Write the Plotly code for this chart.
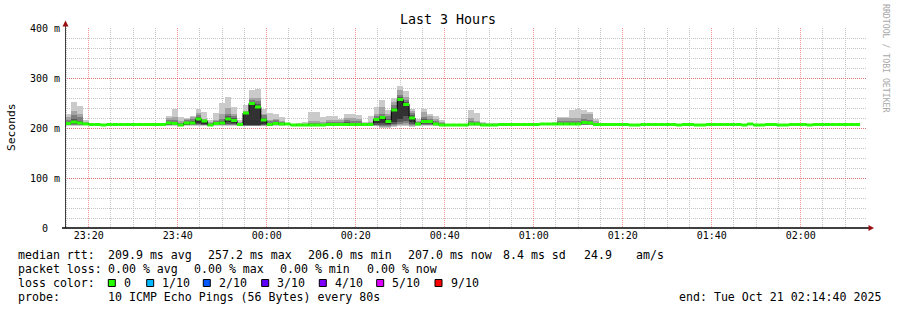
import plotly.graph_objects as go
from datetime import datetime, timedelta

# ---------------- data ----------------
START = datetime(2025, 10, 20, 23, 14, 40)
END = datetime(2025, 10, 21, 2, 14, 40)
STEP_S = 80  # one sample every 80 s

# median RTT per sample (ms)
median_ms = [
    209, 212, 210, 208, 207, 207, 206, 207, 207, 207,
    207, 207, 207, 207, 207, 207, 207, 210, 209, 206,
    210, 210, 218, 214, 206, 209, 210, 218, 215, 207,
    230, 249, 242, 216, 207, 209, 208, 208, 206, 206,
    206, 206, 206, 206, 207, 207, 207, 207, 207, 207,
    207, 207, 217, 221, 213, 236, 257, 247, 220, 208,
    213, 213, 208, 206, 206, 206, 206, 206, 208, 208,
    206, 206, 206, 207, 207, 207, 207, 207, 207, 207,
    208, 208, 208, 208, 208, 208, 208, 211, 210, 207,
    207, 207, 207, 207, 207, 206, 206, 207, 207, 207,
    207, 207, 207, 206, 207, 207, 206, 206, 207, 207,
    207, 207, 207, 207, 206, 208, 206, 206, 207, 207,
    206, 206, 207, 207, 207, 206, 207, 207, 207, 207,
    207, 207, 207, 207,
]

# samples with visible smoke and their 10 sorted ping times (ms)
smoke_samples = [0, 1, 2, 3, 17, 18, 19, 20, 21, 22, 23, 24, 25, 26, 27, 28, 29,
                 30, 31, 32, 33, 34, 35, 36, 37, 39, 40, 41, 42, 43, 44, 45, 46,
                 47, 48, 49, 50, 51, 52, 53, 54, 55, 56, 57, 58, 59, 60, 61, 62,
                 63, 68, 69, 70, 71, 72, 82, 83, 84, 85, 86, 87, 88, 89]
smoke_pings = [
    [205, 206, 206, 207, 208, 209, 212, 216, 222, 228],
    [205, 206, 207, 208, 210, 212, 218, 226, 235, 252],
    [205, 206, 207, 208, 209, 210, 214, 223, 229, 245],
    [206, 206, 207, 207, 207, 208, 209, 210, 212, 216],
    [205, 206, 206, 207, 208, 210, 212, 216, 220, 224],
    [205, 206, 207, 207, 208, 209, 212, 216, 222, 238],
    [204, 205, 205, 206, 206, 206, 208, 210, 214, 222],
    [205, 206, 206, 207, 208, 210, 213, 216, 218, 220],
    [205, 206, 207, 208, 209, 210, 214, 218, 222, 225],
    [205, 206, 207, 208, 210, 218, 222, 226, 230, 238],
    [205, 206, 206, 207, 209, 214, 216, 217, 218, 232],
    [204, 205, 205, 206, 206, 206, 208, 210, 213, 217],
    [205, 206, 206, 207, 208, 209, 212, 215, 217, 231],
    [205, 206, 207, 208, 209, 210, 214, 218, 229, 251],
    [205, 206, 207, 208, 212, 218, 224, 228, 241, 263],
    [205, 206, 207, 208, 210, 215, 220, 224, 228, 243],
    [205, 205, 206, 206, 206, 207, 209, 211, 213, 217],
    [204, 205, 205, 206, 206, 230, 231, 233, 235, 247],
    [204, 205, 205, 206, 206, 249, 252, 256, 261, 276],
    [204, 205, 205, 206, 207, 242, 248, 255, 260, 278],
    [205, 205, 206, 207, 208, 216, 220, 226, 229, 238],
    [205, 205, 206, 206, 206, 207, 210, 214, 217, 230],
    [205, 206, 206, 207, 208, 209, 212, 216, 218, 229],
    [205, 206, 206, 207, 207, 208, 210, 212, 214, 222],
    [206, 206, 207, 207, 207, 208, 209, 210, 210, 211],
    [205, 205, 206, 206, 206, 206, 207, 208, 209, 211],
    [205, 205, 206, 206, 206, 206, 207, 208, 209, 212],
    [205, 205, 206, 206, 206, 206, 208, 210, 215, 233],
    [205, 205, 206, 206, 206, 206, 208, 210, 215, 233],
    [205, 205, 206, 206, 206, 206, 207, 209, 212, 223],
    [205, 205, 206, 206, 206, 207, 209, 212, 216, 224],
    [205, 205, 206, 206, 206, 207, 209, 212, 216, 224],
    [205, 205, 206, 206, 206, 207, 209, 213, 216, 218],
    [205, 205, 206, 206, 207, 207, 212, 216, 221, 228],
    [205, 205, 206, 206, 207, 207, 211, 215, 221, 229],
    [205, 205, 206, 206, 207, 207, 210, 214, 218, 226],
    [205, 206, 206, 206, 207, 207, 208, 209, 210, 213],
    [205, 206, 206, 206, 207, 207, 208, 210, 213, 225],
    [204, 205, 206, 207, 210, 217, 220, 224, 229, 242],
    [200, 203, 205, 207, 210, 221, 224, 229, 243, 257],
    [200, 203, 205, 206, 208, 213, 218, 224, 228, 237],
    [202, 204, 206, 208, 213, 236, 240, 246, 253, 261],
    [204, 206, 208, 212, 219, 257, 262, 266, 276, 285],
    [204, 206, 210, 214, 224, 247, 252, 256, 263, 275],
    [203, 205, 206, 208, 213, 220, 226, 230, 234, 238],
    [205, 206, 206, 207, 207, 208, 210, 212, 214, 219],
    [205, 206, 207, 208, 210, 213, 218, 223, 232, 239],
    [205, 206, 207, 208, 210, 213, 216, 219, 224, 229],
    [205, 206, 206, 207, 207, 208, 210, 214, 218, 225],
    [205, 205, 206, 206, 206, 206, 208, 210, 212, 217],
    [205, 206, 206, 207, 207, 208, 210, 214, 220, 237],
    [205, 206, 206, 207, 207, 208, 210, 212, 214, 231],
    [205, 205, 206, 206, 206, 206, 207, 208, 210, 213],
    [205, 205, 206, 206, 206, 206, 207, 207, 208, 210],
    [205, 205, 206, 206, 206, 206, 207, 208, 209, 211],
    [206, 206, 207, 207, 207, 208, 209, 210, 211, 213],
    [206, 206, 207, 207, 208, 208, 210, 214, 220, 223],
    [206, 206, 207, 207, 208, 208, 210, 214, 220, 223],
    [206, 206, 207, 207, 208, 208, 210, 214, 220, 237],
    [206, 206, 207, 207, 208, 208, 210, 215, 221, 238],
    [206, 206, 207, 208, 209, 211, 214, 218, 228, 237],
    [206, 206, 207, 208, 209, 210, 213, 216, 229, 233],
    [206, 206, 206, 207, 207, 207, 209, 211, 214, 219],
]

y_tick_vals = [0, 100, 200, 300, 400]
y_tick_text = ["0\u00a0\u00a0", "100 m", "200 m", "300 m", "400 m"]

title_text = "Last 3 Hours"
rtt_items = ["median rtt:", "209.9 ms avg", "257.2 ms max", "206.0 ms min",
             "207.0 ms now", "8.4 ms sd", "24.9", "am/s"]
loss_items = ["packet loss:", "0.00 % avg", "0.00 % max", "0.00 % min", "0.00 % now"]
loss_labels = ["0", "1/10", "2/10", "3/10", "4/10", "5/10", "9/10"]
loss_colors = ["#26ff00", "#00b8ff", "#0059ff", "#5e00ff", "#7e00ff", "#dd00ff", "#ff0000"]
probe_items = ["probe:", "10 ICMP Echo Pings (56 Bytes) every 80s"]
end_text = "end: Tue Oct 21 02:14:40 2025"

# ---------------- styling ----------------
MONO = "DejaVu Sans Mono"
SMOKE_COLORS = ["#cacaca", "#a4a4a4", "#7e7e7e", "#585858", "#323232"]
MAJOR_GRID = "rgba(255,0,0,0.42)"
MINOR_GRID = "#c4c4c4"
ARROW = "#9a1010"

W, H = 897, 310
PL, PR, PT, PB = 65, 866, 28, 228


def px(x):
    return (x - PL) / (PR - PL)


def py(y):
    return (PB - y) / (PB - PT)


n = len(median_ms)
starts = [START + timedelta(seconds=STEP_S * i) for i in range(n)]
centers = [t + timedelta(seconds=STEP_S / 2) for t in starts]
last_end = starts[-1] + timedelta(seconds=STEP_S)

fig = go.Figure()

# smoke: layer k spans ping k .. ping (11-k)
for k in range(5):
    xs, base, hgt = [], [], []
    for idx, p in zip(smoke_samples, smoke_pings):
        lo, hi = p[k], p[9 - k]
        if hi > lo:
            xs.append(centers[idx])
            base.append(lo)
            hgt.append(hi - lo)
    fig.add_bar(x=xs, y=hgt, base=base, width=STEP_S * 1000,
                marker=dict(color=SMOKE_COLORS[k], line=dict(width=0)),
                hoverinfo="skip")

# median step line (black risers)
fig.add_scatter(x=starts + [last_end], y=median_ms + [median_ms[-1]],
                mode="lines", line=dict(color="#000000", width=1, shape="hv"),
                hoverinfo="skip")

# median band in loss colour (0 loss everywhere)
gx, gy = [], []
for i in range(n):
    gx += [starts[i], starts[i] + timedelta(seconds=STEP_S), None]
    gy += [median_ms[i], median_ms[i], None]
fig.add_scatter(x=gx, y=gy, mode="lines", connectgaps=False,
                line=dict(color=loss_colors[0], width=3), hoverinfo="skip")

fig.update_layout(
    width=W, height=H,
    margin=dict(l=PL, r=W - PR, t=PT, b=H - PB),
    paper_bgcolor="white", plot_bgcolor="white",
    showlegend=False, barmode="overlay", bargap=0,
    font=dict(family=MONO, color="#000000"),
)

fig.update_xaxes(
    type="date", range=[START, END],
    tickmode="linear", tick0="2025-10-20 23:20:00", dtick=20 * 60 * 1000,
    tickformat="%H:%M", tickfont=dict(family=MONO, size=10, color="#000"),
    showgrid=True, gridcolor=MAJOR_GRID, griddash="1px,1px", gridwidth=1,
    minor=dict(tickmode="linear", tick0="2025-10-20 23:20:00", dtick=5 * 60 * 1000,
               showgrid=True, gridcolor=MINOR_GRID, griddash="1px,1px", gridwidth=1),
    showline=False, zeroline=False, ticks="", fixedrange=True,
)
fig.update_yaxes(
    range=[0, 400], tickmode="array", tickvals=y_tick_vals, ticktext=y_tick_text,
    tickfont=dict(family=MONO, size=10, color="#000"),
    showgrid=True, gridcolor=MAJOR_GRID, griddash="1px,1px", gridwidth=1,
    minor=dict(tickmode="linear", tick0=0, dtick=20, showgrid=True,
               gridcolor=MINOR_GRID, griddash="1px,1px", gridwidth=1),
    showline=False, zeroline=False, ticks="", ticklabelstandoff=4, fixedrange=True,
)

shapes = []
# axis lines with arrows
shapes.append(dict(type="line", xref="paper", yref="paper",
                   x0=px(65.5), x1=px(65.5), y0=py(228), y1=py(24),
                   line=dict(color="#404040", width=1)))
shapes.append(dict(type="line", xref="paper", yref="paper",
                   x0=px(62), x1=px(870), y0=py(228), y1=py(228),
                   line=dict(color="#000000", width=1.5)))
shapes.append(dict(type="path", xref="paper", yref="paper",
                   path=f"M {px(62.5)} {py(26.5)} L {px(68.5)} {py(26.5)} L {px(65.5)} {py(20.5)} Z",
                   fillcolor=ARROW, line=dict(width=0)))
shapes.append(dict(type="path", xref="paper", yref="paper",
                   path=f"M {px(868.5)} {py(225)} L {px(868.5)} {py(231)} L {px(874)} {py(228)} Z",
                   fillcolor=ARROW, line=dict(width=0)))

# legend colour boxes
box_left = [108.3, 146.7, 203.3, 261.7, 319.3, 376.7, 435.0]
for bx, col in zip(box_left, loss_colors):
    shapes.append(dict(type="rect", xref="paper", yref="paper",
                       x0=px(bx), x1=px(bx + 7), y0=py(286.5), y1=py(279.5),
                       fillcolor=col, line=dict(color="#000000", width=1)))

ann = []
LEG = 11.6


def text(x, y, s, size=LEG, color="#000000", anchor="left", angle=0):
    ann.append(dict(xref="paper", yref="paper", x=px(x), y=py(y), text=s.replace(" ", "\u00a0"),
                    showarrow=False, xanchor=anchor, yanchor="middle", textangle=angle,
                    font=dict(family=MONO, size=size, color=color), borderpad=0))


text(448, 19, title_text, size=13.3, anchor="center")
text(11, 127, "Seconds", size=11.3, anchor="center", angle=-90)
text(886, 58, "RRDTOOL / TOBI OETIKER", size=8.2, color="#a8a8a8", anchor="center", angle=90)

rtt_x = [16.7, 107.3, 207.3, 307.3, 407.3, 501.7, 583.3, 635.0]
for x, s in zip(rtt_x, rtt_items):
    text(x, 254.5, s)
loss_x = [16.7, 107.3, 193.3, 279.3, 365.7]
for x, s in zip(loss_x, loss_items):
    text(x, 268.5, s)
text(16.7, 282.8, "loss color:")
for bx, s in zip(box_left, loss_labels):
    text(bx + 14.7, 282.8, s)
text(16.7, 296.8, probe_items[0])
text(107.3, 296.8, probe_items[1])
text(678.3, 296.8, end_text)

fig.update_layout(shapes=shapes, annotations=ann)

fig.write_html("out.html", config=dict(displayModeBar=False, staticPlot=True))
